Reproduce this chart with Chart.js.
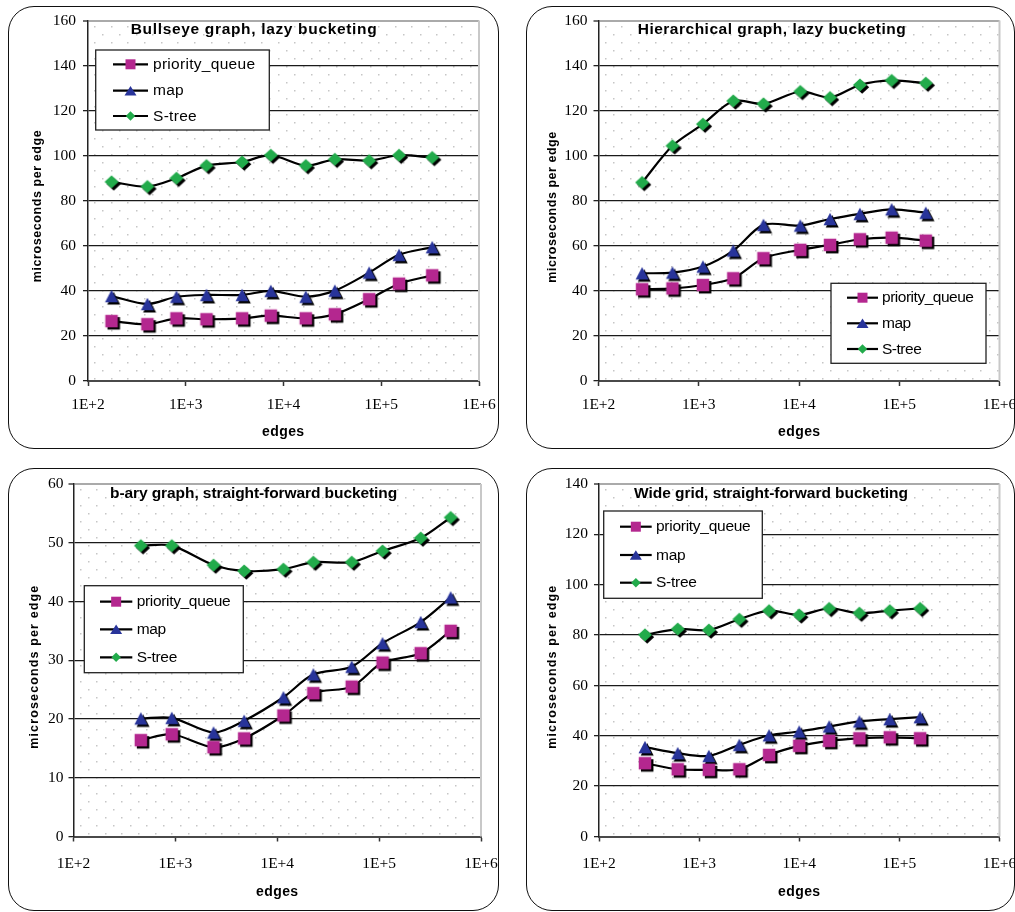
<!DOCTYPE html>
<html>
<head>
<meta charset="utf-8">
<script src="https://cdn.jsdelivr.net/npm/chart.js@4.4.1/dist/chart.umd.min.js"></script>
<style>
  html, body { margin: 0; padding: 0; background: #fff; }
  body { width: 1015px; height: 912px; position: relative; overflow: hidden; }
  .frame { position: absolute; box-sizing: border-box; border: 1.6px solid #111; border-radius: 26px; }
  canvas { position: absolute; }
</style>
</head>
<body>
<div class="frame" style="left:8px;top:6px;width:491px;height:443px"></div>
<div class="frame" style="left:526px;top:6px;width:489px;height:443px"></div>
<div class="frame" style="left:8px;top:468px;width:491px;height:443px"></div>
<div class="frame" style="left:526px;top:468px;width:489px;height:443px"></div>
<canvas id="bullseye"></canvas>
<canvas id="hierarchical"></canvas>
<canvas id="bary"></canvas>
<canvas id="widegrid"></canvas>
<script>
// ---------- data ----------
const xTickExponents = [2, 3, 4, 5, 6];
const xTickLabels = ['1E+2', '1E+3', '1E+4', '1E+5', '1E+6'];
const seriesNames = ['priority_queue', 'map', 'S-tree'];

// Bullseye graph, lazy bucketing
const bullseyeEdges = [174, 405, 804, 1630, 3770, 7410, 16900, 33500, 75200, 152000, 332000];
const bullseyePQ    = [26.6, 25.2, 27.8, 27.4, 27.8, 29.0, 27.8, 29.6, 36.3, 43.2, 46.9];
const bullseyeMap   = [37.7, 34.2, 37.4, 38.2, 38.2, 40.0, 37.4, 40.1, 48.1, 56.0, 59.4];
const bullseyeSTree = [88.4, 86.3, 90.0, 95.6, 97.2, 100.2, 95.6, 98.4, 97.8, 100.2, 99.2];

// Hierarchical graph, lazy bucketing
const hierEdges = [272, 547, 1100, 2210, 4420, 10300, 20400, 40500, 84000, 184000];
const hierPQ    = [40.7, 41.1, 42.6, 45.6, 54.5, 58.2, 60.4, 62.9, 63.6, 62.3];
const hierMap   = [47.8, 48.1, 50.8, 57.9, 69.3, 69.0, 71.9, 74.2, 76.2, 74.7];
const hierSTree = [88.1, 104.4, 114.0, 124.3, 123.0, 128.5, 125.8, 131.4, 133.4, 132.2];

// b-ary graph, straight-forward bucketing
const baryEdges = [458, 922, 2370, 4730, 11500, 22600, 53800, 108000, 256000, 504000];
const baryPQ    = [16.4, 17.4, 15.2, 16.7, 20.6, 24.4, 25.5, 29.6, 31.2, 35.0];
const baryMap   = [20.1, 20.2, 17.7, 19.7, 23.7, 27.6, 28.9, 32.9, 36.5, 40.7];
const barySTree = [49.5, 49.5, 46.2, 45.2, 45.5, 46.7, 46.7, 48.6, 50.8, 54.3];

// Wide grid, straight-forward bucketing
const wideEdges = [288, 611, 1250, 2520, 5000, 10000, 19900, 39900, 80200, 161000];
const widePQ    = [29.1, 26.7, 26.5, 26.7, 32.4, 36.0, 38.0, 39.0, 39.4, 39.0];
const wideMap   = [35.5, 33.1, 32.0, 36.4, 40.2, 41.7, 43.7, 45.7, 46.6, 47.4];
const wideSTree = [80.1, 82.4, 82.0, 86.3, 89.7, 88.0, 90.6, 88.7, 89.7, 90.6];

// ---------- look ----------
const SANS = '"Liberation Sans", Arial, sans-serif';
const SERIF = "'Liberation Serif', serif";
Chart.defaults.font.family = SERIF;
Chart.defaults.font.size = 15.5;
Chart.defaults.color = '#000';

const markerColors = ['#b4278f', '#28349a', '#22ab4b'];
const markerShapes = ['square', 'triangle', 'diamond'];
const markerSizes = [[12.5, 12.5], [13, 12.5], [14, 13]];
const legendMarkerSizes = [[10, 10], [12, 9.5], [9.5, 9.5]];

function shapePath(g, shape, x, y, w, h) {
  g.beginPath();
  if (shape === 'square') {
    g.rect(x - w / 2, y - h / 2, w, h);
  } else if (shape === 'triangle') {
    g.moveTo(x, y - h / 2);
    g.lineTo(x + w / 2, y + h / 2);
    g.lineTo(x - w / 2, y + h / 2);
    g.closePath();
  } else {
    g.moveTo(x, y - h / 2);
    g.lineTo(x + w / 2, y);
    g.lineTo(x, y + h / 2);
    g.lineTo(x - w / 2, y);
    g.closePath();
  }
}

// point sprites: coloured marker with a hard black drop shadow
function markerImage(i) {
  const c = document.createElement('canvas');
  c.width = 26; c.height = 26;
  const g = c.getContext('2d');
  const [w, h] = markerSizes[i];
  shapePath(g, markerShapes[i], 15.2, 15.2, w, h);
  g.fillStyle = '#000'; g.fill();
  shapePath(g, markerShapes[i], 13, 13, w, h);
  g.fillStyle = markerColors[i]; g.fill();
  return c;
}
const markerImages = [0, 1, 2].map(markerImage);

// ---------- panel layout (page coordinates) ----------
const panels = [
  { id: 'bullseye', box: [0, 0, 507, 460], area: [88, 20.5, 479, 381],
    edges: bullseyeEdges, series: [bullseyePQ, bullseyeMap, bullseyeSTree],
    yMax: 160, yStep: 20, yPad: 7, xPad: 10,
    title: 'Bullseye graph, lazy bucketing', titleAt: [130.7, 30], titleW: 246,
    yTitleAt: [37.5, 206], yTitleW: 152, xTitleAt: [283.3, 432.3], xTitleW: 42,
    legend: { box: [95.7, 50, 269.3, 130], rows: [64.3, 90.7, 116], line: [113, 148], text: 153, textW: 102 } },
  { id: 'hierarchical', box: [507, 0, 508, 460], area: [598.5, 20.5, 999.5, 381],
    edges: hierEdges, series: [hierPQ, hierMap, hierSTree],
    yMax: 160, yStep: 20, yPad: 6, xPad: 10,
    title: 'Hierarchical graph, lazy bucketing', titleAt: [637.7, 30], titleW: 268,
    yTitleAt: [552.7, 207], yTitleW: 151, xTitleAt: [799.3, 432.3], xTitleW: 42,
    legend: { box: [831, 283.3, 986, 363.3], rows: [297.7, 323.3, 349], line: [847, 878], text: 882, textW: 92 } },
  { id: 'bary', box: [0, 460, 507, 452], area: [73.5, 484, 481, 836.5],
    edges: baryEdges, series: [baryPQ, baryMap, barySTree],
    yMax: 60, yStep: 10, yPad: 5, xPad: 13.5,
    title: 'b-ary graph, straight-forward bucketing', titleAt: [110, 493.3], titleW: 287,
    yTitleAt: [34.3, 666.7], yTitleW: 163, xTitleAt: [277.3, 892.3], xTitleW: 42,
    legend: { box: [84.3, 585.7, 243.3, 672.7], rows: [601.7, 629.3, 657.3], line: [100, 132.3], text: 136.7, textW: 94 } },
  { id: 'widegrid', box: [507, 460, 508, 452], area: [599, 484, 999.5, 836.5],
    edges: wideEdges, series: [widePQ, wideMap, wideSTree],
    yMax: 140, yStep: 20, yPad: 6, xPad: 13.5,
    title: 'Wide grid, straight-forward bucketing', titleAt: [634, 493.3], titleW: 274,
    yTitleAt: [552.7, 666.7], yTitleW: 163, xTitleAt: [799.3, 892.3], xTitleW: 42,
    legend: { box: [603.7, 511, 762.3, 598.3], rows: [526.7, 555, 582.7], line: [620, 651.7], text: 656, textW: 94.7 } }
];

// spread text so that it spans the given width
function fitSpacing(ctx, text, targetW) {
  ctx.letterSpacing = '0px';
  const w = ctx.measureText(text).width;
  return ((targetW - w) / Math.max(text.length - 1, 1)).toFixed(2) + 'px';
}

function decor(p) {
  const [ox, oy] = p.box;
  return {
    id: 'decor_' + p.id,
    beforeDraw(chart) {
      const { ctx, chartArea: a } = chart;
      ctx.save();
      ctx.fillStyle = '#c6c6c6';
      let r = 0;
      for (let y = a.top + 5; y < a.bottom - 2; y += 8, r++) {
        for (let x = a.left + 6 + (r % 2) * 8.35; x < a.right - 2; x += 16.7) {
          ctx.fillRect(Math.round(x), Math.round(y), 1.5, 1.5);
        }
      }
      ctx.restore();
    },
    beforeDatasetsDraw(chart) {
      const { ctx, chartArea: a } = chart;
      ctx.save();
      ctx.strokeStyle = '#c8c8c8';
      ctx.lineWidth = 2;
      ctx.beginPath();
      ctx.moveTo(a.right, a.top);
      ctx.lineTo(a.right, a.bottom);
      ctx.stroke();
      ctx.restore();
    },
    afterDraw(chart) {
      const ctx = chart.ctx;
      ctx.save();
      ctx.fillStyle = '#000';
      ctx.textBaseline = 'middle';

      // chart title inside the plot area
      ctx.font = 'bold 15.5px ' + SANS;
      ctx.letterSpacing = fitSpacing(ctx, p.title, p.titleW);
      ctx.textAlign = 'left';
      ctx.fillText(p.title, p.titleAt[0] - ox, p.titleAt[1] - oy);

      // axis titles
      const yTitle = 'microseconds per edge';
      ctx.font = 'bold 12.5px ' + SANS;
      ctx.letterSpacing = fitSpacing(ctx, yTitle, p.yTitleW);
      ctx.save();
      ctx.translate(p.yTitleAt[0] - ox, p.yTitleAt[1] - oy);
      ctx.rotate(-Math.PI / 2);
      ctx.textAlign = 'center';
      ctx.fillText(yTitle, 0, 0);
      ctx.restore();

      const xTitle = 'edges';
      ctx.font = 'bold 14px ' + SANS;
      ctx.letterSpacing = fitSpacing(ctx, xTitle, p.xTitleW);
      ctx.textAlign = 'center';
      ctx.fillText(xTitle, p.xTitleAt[0] - ox, p.xTitleAt[1] - oy);

      // legend box
      const lg = p.legend;
      const [x1, y1, x2, y2] = lg.box;
      ctx.letterSpacing = '0px';
      ctx.fillStyle = '#fff';
      ctx.fillRect(x1 - ox, y1 - oy, x2 - x1, y2 - y1);
      ctx.strokeStyle = '#222';
      ctx.lineWidth = 1.3;
      ctx.strokeRect(x1 - ox, y1 - oy, x2 - x1, y2 - y1);
      ctx.font = '15.5px ' + SANS;
      const spacing = fitSpacing(ctx, seriesNames[0], lg.textW);
      lg.rows.forEach((ry, i) => {
        const y = ry - oy;
        ctx.strokeStyle = '#000';
        ctx.lineWidth = 2.2;
        ctx.beginPath();
        ctx.moveTo(lg.line[0] - ox, y);
        ctx.lineTo(lg.line[1] - ox, y);
        ctx.stroke();
        const [w, h] = legendMarkerSizes[i];
        shapePath(ctx, markerShapes[i], (lg.line[0] + lg.line[1]) / 2 - ox, y, w, h);
        ctx.fillStyle = markerColors[i];
        ctx.fill();
        ctx.fillStyle = '#000';
        ctx.textAlign = 'left';
        ctx.letterSpacing = spacing;
        ctx.fillText(seriesNames[i], lg.text - ox, y + 0.5);
        ctx.letterSpacing = '0px';
      });
      ctx.restore();
    }
  };
}

function makeChart(p) {
  const [cx, cy, cw, ch] = p.box;
  const [L, T, R, B] = p.area;
  const canvas = document.getElementById(p.id);
  canvas.width = cw;
  canvas.height = ch;
  canvas.style.left = cx + 'px';
  canvas.style.top = cy + 'px';

  const datasets = p.series.map((values, i) => ({
    label: seriesNames[i],
    data: p.edges.map((e, k) => ({ x: e, y: values[k] })),
    borderColor: '#000',
    borderWidth: 2.2,
    tension: 0.3,
    fill: false,
    pointStyle: markerImages[i],
    pointRadius: 7,
    pointHoverRadius: 7,
    pointBorderWidth: 0
  }));

  return new Chart(canvas, {
    type: 'line',
    data: { datasets },
    options: {
      responsive: false,
      animation: false,
      events: [],
      layout: { padding: { left: 0, top: T - cy, right: cx + cw - R, bottom: 0 } },
      plugins: { legend: { display: false }, tooltip: { enabled: false }, title: { display: false } },
      scales: {
        x: {
          type: 'logarithmic',
          min: Math.pow(10, xTickExponents[0]),
          max: Math.pow(10, xTickExponents[xTickExponents.length - 1]),
          afterBuildTicks(s) {
            s.ticks = xTickExponents.map(e => ({ value: Math.pow(10, e) }));
          },
          afterFit(s) {
            s.height = cy + ch - B;
            s.paddingLeft = 0; s.paddingRight = 0;
          },
          ticks: {
            autoSkip: false, maxRotation: 0, padding: p.xPad, color: '#000',
            callback: (v, idx) => xTickLabels[idx]
          },
          grid: { drawOnChartArea: false, drawTicks: true, tickLength: 5, tickColor: '#333', tickWidth: 1.5 },
          border: { color: '#4a4a4a', width: 2 }
        },
        y: {
          type: 'linear',
          min: 0,
          max: p.yMax,
          afterFit(s) {
            s.width = L - cx;
            s.paddingTop = 0; s.paddingBottom = 0;
          },
          ticks: { stepSize: p.yStep, padding: p.yPad, color: '#000' },
          grid: {
            color: c => (c.tick && c.tick.value === p.yMax) ? '#aaaaaa' : '#1a1a1a',
            lineWidth: c => (c.tick && c.tick.value === p.yMax) ? 2 : 1.3,
            drawTicks: true, tickLength: 5, tickColor: '#222', tickWidth: 1.3
          },
          border: { color: '#222', width: 1.5 }
        }
      }
    },
    plugins: [decor(p)]
  });
}

panels.forEach(makeChart);
</script>
</body>
</html>
